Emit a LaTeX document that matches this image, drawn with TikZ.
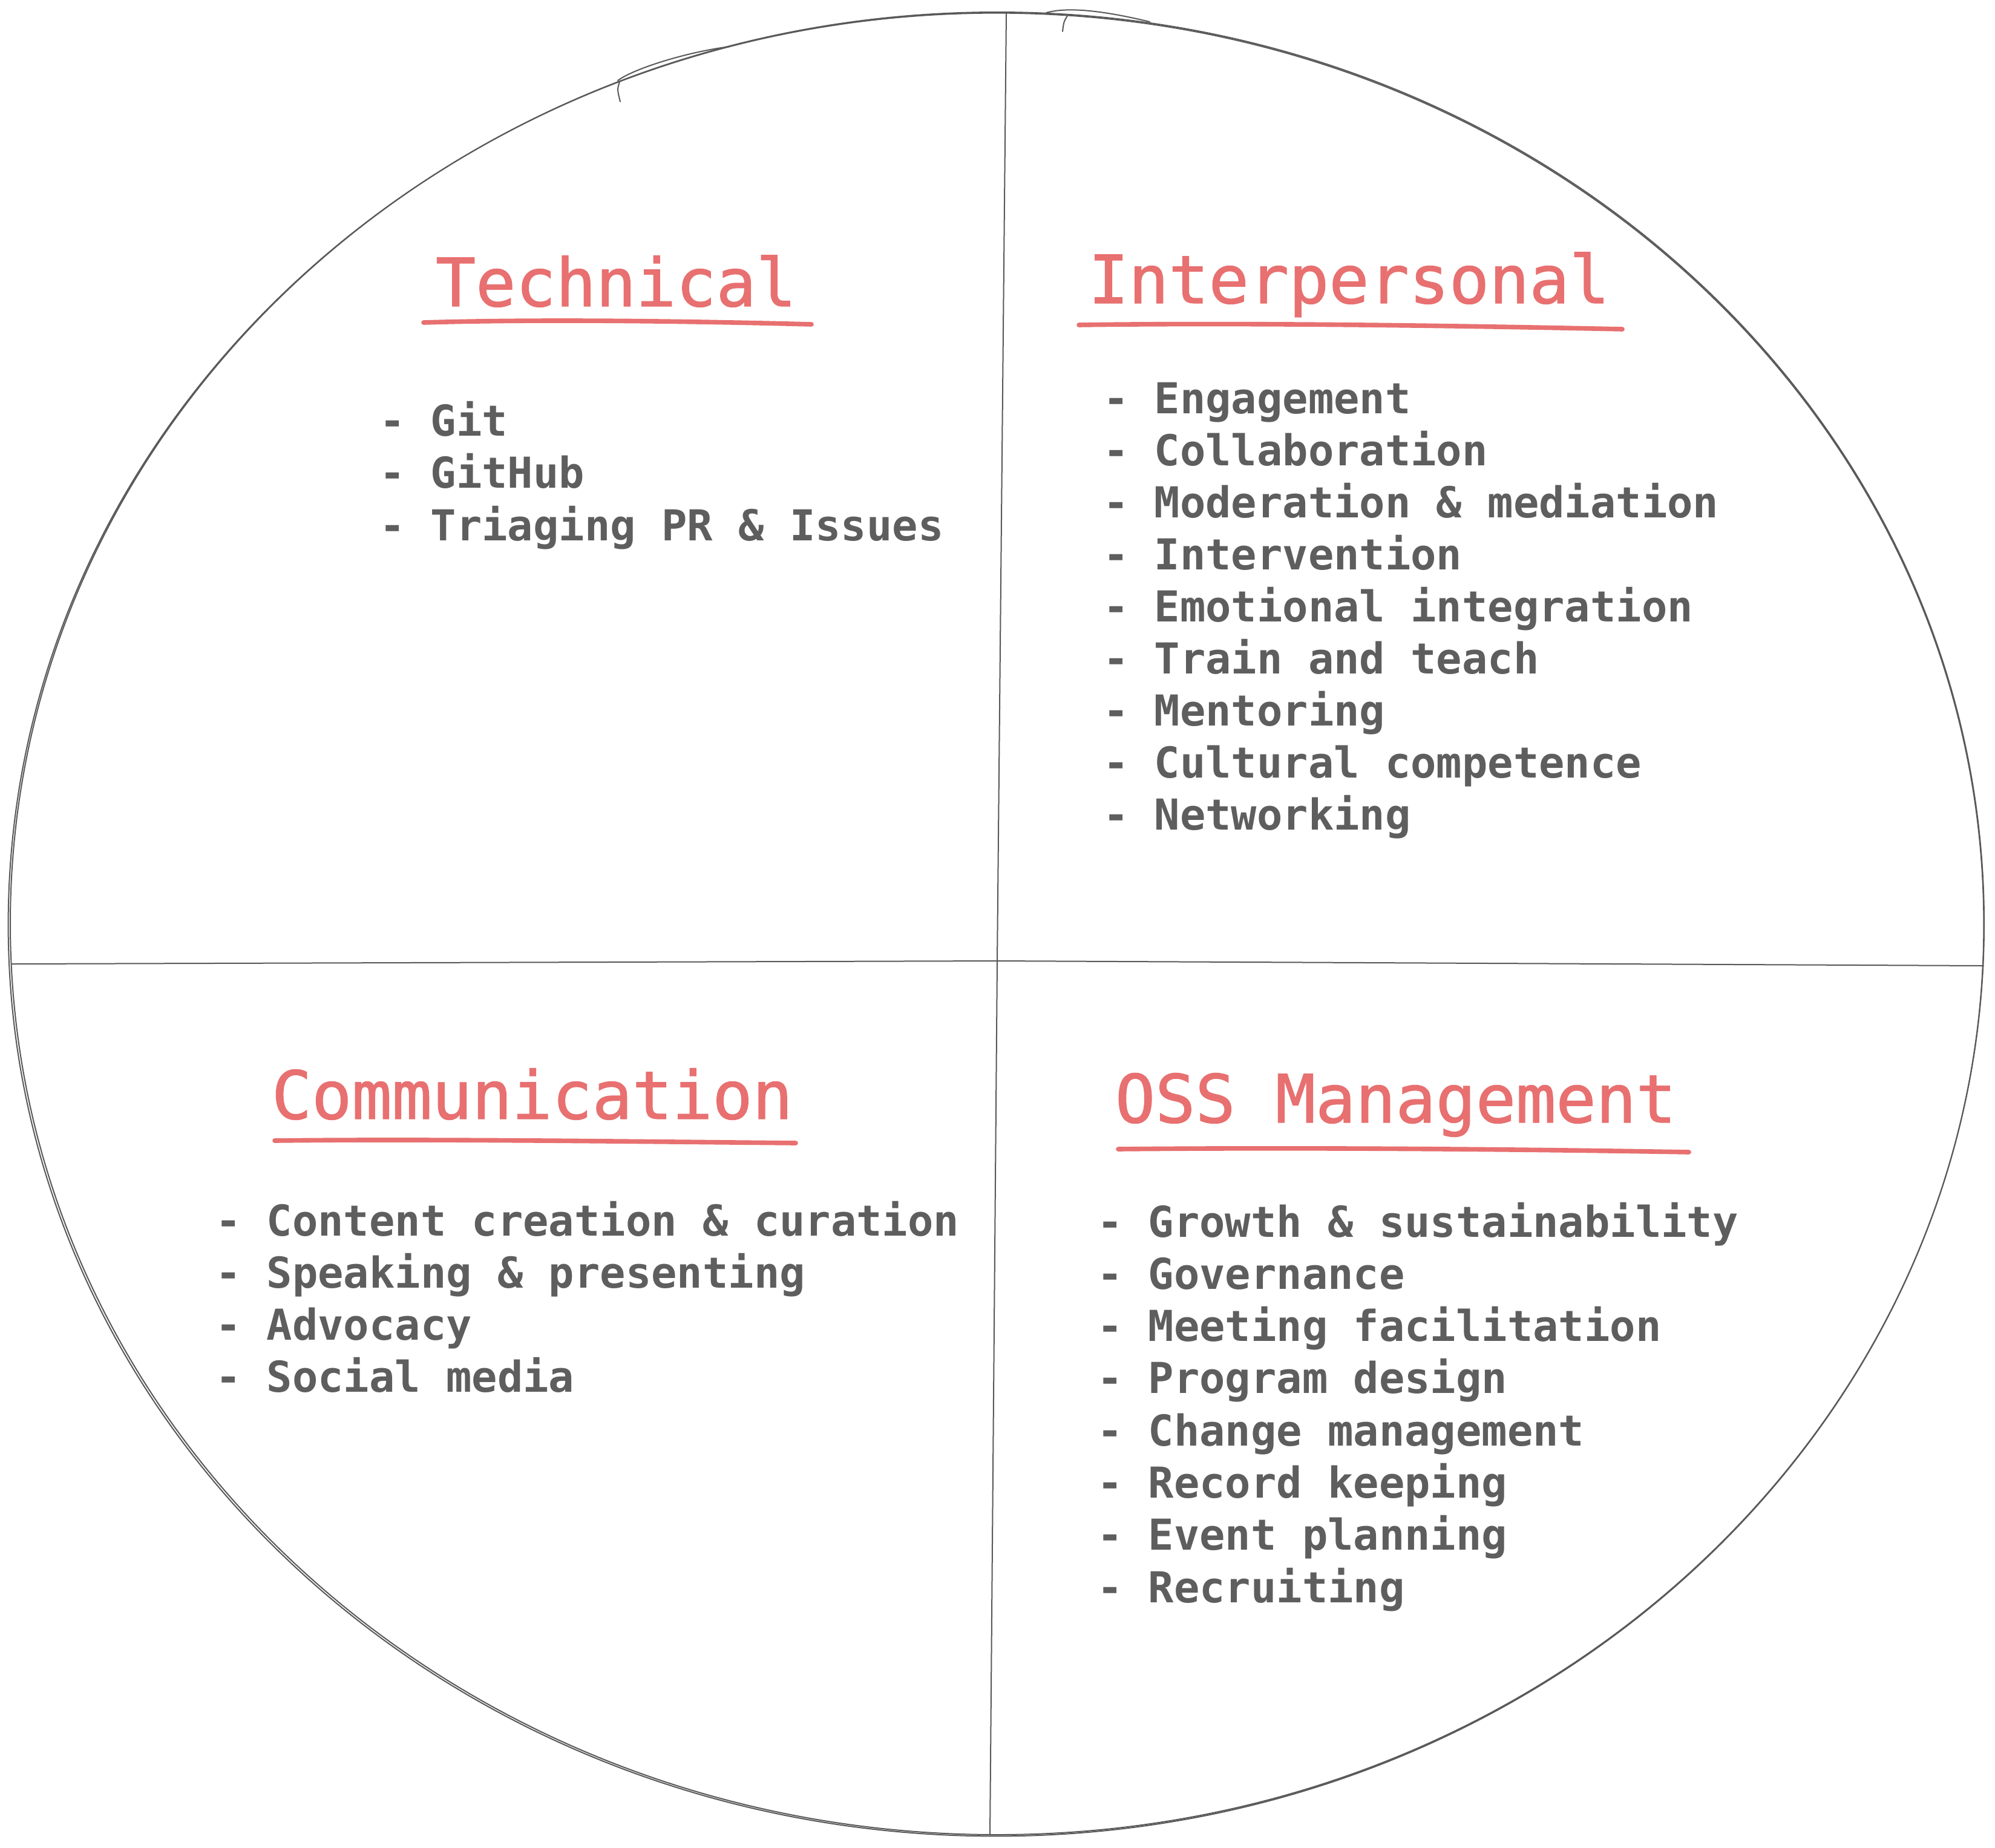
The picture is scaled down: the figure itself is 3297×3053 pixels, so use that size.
\documentclass[tikz,border=0pt]{standalone}
\usepackage{fontspec}
\newfontfamily\skmono[FakeBold=1.2]{DejaVu Sans Mono}
\newfontfamily\skmonoitem[BoldFont={DejaVu Sans Mono Bold}]{DejaVu Sans Mono}
\definecolor{headred}{HTML}{E87070}
\definecolor{itemgray}{HTML}{5E5E5E}
\definecolor{linegray}{HTML}{595959}
\tikzset{
  head/.style={font=\skmono\fontsize{27.5}{33}\selectfont, text=headred, anchor=base west, inner sep=0pt, outer sep=0pt},
  item/.style={font=\skmonoitem\bfseries\fontsize{17.6}{21.6}\selectfont, text=itemgray, anchor=base west, inner sep=0pt, outer sep=0pt},
  uline/.style={draw=headred, line width=1.9pt, line cap=round},
  sketch/.style={draw=linegray, line width=0.5pt, line cap=round}
}
\begin{document}
\begin{tikzpicture}[x=0.25pt, y=-0.25pt]
\fill[white] (0,0) rectangle (3297,3053);
\useasboundingbox (0,0) rectangle (3297,3053);

% outer sketched ellipse (two passes)
\coordinate (cen) at (1648,1526);
\draw[sketch] (cen) ellipse [x radius=407.75pt, y radius=376.5pt];
\draw[sketch] (1646,1528) ellipse [x radius=408.1pt, y radius=376.6pt];
% sketch artefacts at the top
\draw[sketch] (1021,133) .. controls (1050,112) and (1140,85) .. (1206,77);
\draw[sketch] (1024,135) .. controls (1020,148) .. (1025,168);
\draw[sketch] (1729,21) .. controls (1755,14) and (1800,12) .. (1900,36);
\draw[sketch] (1764,26) .. controls (1758,36) .. (1756,52);

% dividing lines
\coordinate (vtop) at (1663,22);
\coordinate (vmid) at (1648,1588);
\coordinate (vbot) at (1636,3031);
\coordinate (hleft) at (19,1593);
\coordinate (hright) at (3278,1596);
\draw[sketch] (vtop) -- (vmid) -- (vbot);
\draw[sketch] (hleft) -- (vmid) -- (hright);

% headings
\node[head] (tech) at (720,506) {Technical};
\node[head] (inter) at (1799,501) {Interpersonal};
\node[head] (comm) at (449,1849) {Communication};
\node[head] (oss) at (1843,1855) {OSS Management};

% underlines
\draw[uline] (700,533) .. controls (900,527) and (1150,531) .. (1341,536);
\draw[uline] (1783,537) .. controls (2050,533) and (2400,538) .. (2681,544);
\draw[uline] (454,1885) .. controls (700,1882) and (1000,1886) .. (1315,1889);
\draw[uline] (1848,1899) .. controls (2150,1896) and (2500,1899) .. (2791,1904);

% Technical items
\node[item] (t1) at (627,720) {- Git};
\node[item] (t2) at (627,806.5) {- GitHub};
\node[item] (t3) at (627,893) {- Triaging PR \& Issues};

% Interpersonal items
\foreach \txt [count=\i from 0] in {Engagement, Collaboration, Moderation \& mediation, Intervention, Emotional integration, Train and teach, Mentoring, Cultural competence, Networking}
  \node[item] (ip\i) at (1823,683+86.1*\i) {- \txt};

% Communication items
\foreach \txt [count=\i from 0] in {Content creation \& curation, Speaking \& presenting, Advocacy, Social media}
  \node[item] (cm\i) at (356,2042+86*\i) {- \txt};

% OSS Management items
\foreach \txt [count=\i from 0] in {Growth \& sustainability, Governance, Meeting facilitation, Program design, Change management, Record keeping, Event planning, Recruiting}
  \node[item] (os\i) at (1813,2044+86.3*\i) {- \txt};
\end{tikzpicture}
\end{document}
